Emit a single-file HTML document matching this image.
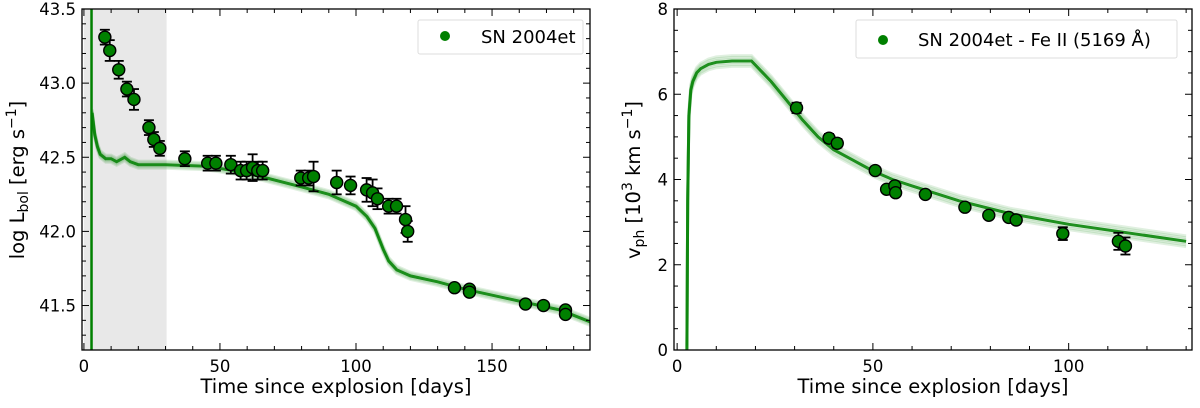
<!DOCTYPE html>
<html><head><meta charset="utf-8"><style>
html,body{margin:0;padding:0;background:#fff;}
svg{display:block;font-family:"DejaVu Sans","Liberation Sans",sans-serif;}
</style></head><body>
<svg id="fig" width="1200" height="408" viewBox="0 0 1200 408" xmlns="http://www.w3.org/2000/svg"></svg>
<script>
// ---- Left panel data ----
const lumDays = [7.7,9.5,12.8,15.8,18.4,23.9,25.7,27.9,37.1,45.5,48.5,54,57.6,59.8,62,63.9,65.7,79.7,82.6,84.4,92.9,98,103.9,106.1,107.9,112,114.9,118.2,119,136.2,141.7,141.7,162.3,168.9,177,177];
const lumVals = [43.31,43.22,43.09,42.96,42.89,42.70,42.62,42.56,42.49,42.46,42.46,42.45,42.41,42.41,42.43,42.41,42.41,42.36,42.36,42.37,42.33,42.31,42.28,42.26,42.22,42.17,42.17,42.08,42.00,41.62,41.61,41.59,41.51,41.50,41.47,41.44];
const lumErrs = [0.05,0.07,0.06,0.05,0.07,0.05,0.05,0.05,0.05,0.05,0.05,0.06,0.06,0.06,0.09,0.06,0.06,0.05,0.05,0.10,0.08,0.06,0.08,0.09,0.07,0.05,0.05,0.09,0.07,0.01,0.01,0.01,0.01,0.01,0.01,0.01];
const lumModelDays = [3,4,5,6,8,10,12,15,17,20,30,45,55,65,80,90,100,104,107,110,112,115,120,130,140,160,175,186];
const lumModelVals = [42.80,42.65,42.57,42.52,42.49,42.49,42.47,42.50,42.47,42.45,42.45,42.44,42.41,42.37,42.30,42.25,42.17,42.10,42.02,41.88,41.80,41.74,41.70,41.66,41.61,41.53,41.47,41.39];
const lumXTicks = [0,50,100,150];
const lumYTicks = [41.5,42.0,42.5,43.0,43.5];
// ---- Right panel data ----
const velDays = [30.5,38.8,40.9,50.6,53.5,55.6,55.8,63.4,73.5,79.6,84.7,86.6,98.5,112.7,114.5];
const velVals = [5.68,4.97,4.85,4.21,3.77,3.85,3.69,3.65,3.35,3.16,3.11,3.05,2.73,2.55,2.44];
const velErrs = [0.12,0.10,0.10,0.08,0.08,0.08,0.08,0.08,0.08,0.08,0.08,0.08,0.15,0.20,0.20];
const velModelDays = [2.5,2.7,3,3.5,4,5,6,8,10,14,19,24,28,32,36,40,45,50,55,60,72,85,100,115,130];
const velModelVals = [0,3.5,5.5,6.1,6.3,6.5,6.6,6.7,6.75,6.78,6.78,6.3,5.85,5.4,5.0,4.7,4.45,4.2,4.0,3.85,3.5,3.2,2.95,2.75,2.55];
const velXTicks = [0,50,100];
const velYTicks = [0,2,4,6,8];

const NS="http://www.w3.org/2000/svg";
const svg=document.getElementById('fig');
function mk(tag,attrs,parent){const e=document.createElementNS(NS,tag);for(const k in attrs)e.setAttribute(k,attrs[k]);(parent||svg).appendChild(e);return e;}

function panel(o){
  const g=mk('g',{});
  
  
  const X=v=>o.x0+(v-o.xmin)/(o.xmax-o.xmin)*(o.x1-o.x0);
  const Y=v=>o.y1-(v-o.ymin)/(o.ymax-o.ymin)*(o.y1-o.y0);
  if(o.shade){const r=mk('rect',{x:X(o.shade[0]),y:o.y0,width:X(o.shade[1])-X(o.shade[0]),height:o.y1-o.y0,fill:'#e8e8e8'},g);
    }
  const mg=mk('g',{'clip-path':'url(#'+o.clip+')'},g);
  
  const cp=mk('clipPath',{id:o.clip},g);mk('rect',{x:o.x0,y:o.y0,width:o.x1-o.x0,height:o.y1-o.y0},cp);
  let d='';
  if(o.vline){d+='M'+X(o.vline)+','+(o.y1+5)+' L'+X(o.vline)+','+(o.y0-5)+' ';}
  let pd='';o.mx.forEach((v,i)=>{pd+=(i?'L':'M')+X(v).toFixed(1)+','+Y(o.my[i]).toFixed(1)+' ';});
  for(let k=-3;k<=3;k++){mk('path',{d:pd,fill:'none',stroke:'#008000','stroke-opacity':0.12,'stroke-width':3,transform:'translate(0,'+(k*o.spread)+')'},mg);}
  const ml=mk('path',{d:pd,fill:'none',stroke:'#008000','stroke-width':3,'stroke-opacity':0.85},mg);
  
  if(d){const vl=mk('path',{d:d,fill:'none',stroke:'#008000','stroke-width':2.5},mg);}
  o.dx.forEach((v,i)=>{
    const cx=X(v),e=o.de[i];
    const eb=mk('g',{stroke:'#000','stroke-width':1.8},g);
    
    mk('line',{x1:cx,x2:cx,y1:Y(o.dy[i]+e),y2:Y(o.dy[i]-e)},eb);
    mk('line',{x1:cx-5,x2:cx+5,y1:Y(o.dy[i]+e),y2:Y(o.dy[i]+e)},eb);
    mk('line',{x1:cx-5,x2:cx+5,y1:Y(o.dy[i]-e),y2:Y(o.dy[i]-e)},eb);
  });
  o.dx.forEach((v,i)=>{
    const c=mk('circle',{cx:X(v),cy:Y(o.dy[i]),r:6,fill:'#008000',stroke:'#000','stroke-width':1.4},g);
    
  });
  const fr=mk('rect',{x:o.x0,y:o.y0,width:o.x1-o.x0,height:o.y1-o.y0,fill:'none',stroke:'#000','stroke-width':1.3},g);
  
  const tg=mk('g',{stroke:'#000','stroke-width':1},g);
  
  for(let v=Math.ceil(o.xmin/o.xminor)*o.xminor;v<=o.xmax;v+=o.xminor){const x=X(v);const maj=Math.abs(v/o.xmajor-Math.round(v/o.xmajor))<1e-6;const L=maj?7:4;
    mk('line',{x1:x,x2:x,y1:o.y1,y2:o.y1-L},tg);mk('line',{x1:x,x2:x,y1:o.y0,y2:o.y0+L},tg);}
  for(let v=Math.ceil(o.ymin/o.yminor-1e-6)*o.yminor;v<=o.ymax+1e-6;v+=o.yminor){const y=Y(v);const maj=Math.abs(v/o.ymajor-Math.round(v/o.ymajor))<1e-6;const L=maj?7:4;
    mk('line',{x1:o.x0,x2:o.x0+L,y1:y,y2:y},tg);mk('line',{x1:o.x1,x2:o.x1-L,y1:y,y2:y},tg);}
  o.xt.forEach(v=>{const t=mk('text',{x:X(v),y:o.y1+22,'text-anchor':'middle','font-size':16.5},g);t.textContent=v;
    });
  o.yt.forEach(v=>{const t=mk('text',{x:o.x0-6,y:Y(v)+6,'text-anchor':'end','font-size':16.5},g);t.textContent=v.toFixed(o.ydec);
    });
  const xl=mk('text',{x:(o.x0+o.x1)/2,y:o.y1+43,'text-anchor':'middle','font-size':19.5},g);xl.textContent='Time since explosion [days]';
  
  return {X,Y,g};
}

const L=panel({name:'luminosity-panel',clip:'c1',x0:82,x1:590,y0:9,y1:350,xmin:-0.7,xmax:186,ymin:41.2,ymax:43.5,xminor:10,xmajor:50,yminor:0.1,ymajor:0.5,
  shade:[0,30.4],vline:2.8,mx:lumModelDays,my:lumModelVals,spread:1.2,dx:lumDays,dy:lumVals,de:lumErrs,xt:lumXTicks,yt:lumYTicks,ydec:1});
const R=panel({name:'velocity-panel',clip:'c2',x0:674,x1:1192,y0:9,y1:350,xmin:-0.8,xmax:131.5,ymin:0,ymax:8,xminor:10,xmajor:50,yminor:0.5,ymajor:2,
  vline:null,mx:velModelDays,my:velModelVals,spread:1.8,dx:velDays,dy:velVals,de:velErrs,xt:velXTicks,yt:velYTicks,ydec:0});
</script>
<svg style="position:absolute;left:0;top:0" width="1200" height="408">
<text x="24" y="180" transform="rotate(-90 24 180)" text-anchor="middle" font-size="19.5" font-family="DejaVu Sans, Liberation Sans, sans-serif">log L<tspan font-size="14" dy="4">bol</tspan><tspan dy="-4"> [erg s</tspan><tspan font-size="14" dy="-8">−1</tspan><tspan dy="8">]</tspan></text>
<text x="640" y="180" transform="rotate(-90 640 180)" text-anchor="middle" font-size="19.5" font-family="DejaVu Sans, Liberation Sans, sans-serif">v<tspan font-size="14" dy="4">ph</tspan><tspan dy="-4"> [10</tspan><tspan font-size="14" dy="-8">3</tspan><tspan dy="8"> km s</tspan><tspan font-size="14" dy="-8">−1</tspan><tspan dy="8">]</tspan></text>
<g>
<rect x="418" y="20" width="165" height="34" rx="2" fill="#fff" fill-opacity="0.85" stroke="#ddd"/>
<circle cx="445" cy="36" r="5" fill="#008000"/>
<text x="481" y="43" font-size="18" font-family="DejaVu Sans, Liberation Sans, sans-serif">SN 2004et</text>
</g>
<g>
<rect x="856" y="20" width="321" height="38" rx="2" fill="#fff" fill-opacity="0.85" stroke="#ddd"/>
<circle cx="883" cy="40" r="5" fill="#008000"/>
<text x="918" y="46" font-size="18" font-family="DejaVu Sans, Liberation Sans, sans-serif">SN 2004et - Fe II (5169 Å)</text>
</g>
</svg>
</body></html>
